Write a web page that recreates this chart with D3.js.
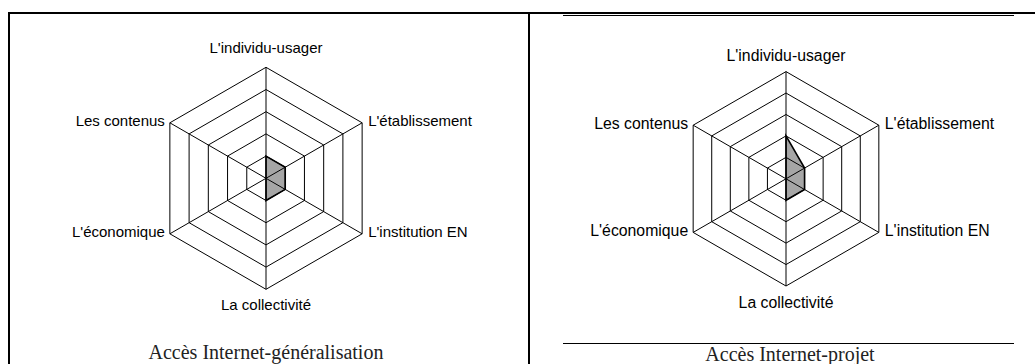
<!DOCTYPE html>
<html>
<head>
<meta charset="utf-8">
<script src="https://cdn.jsdelivr.net/npm/d3@7"></script>
<style>
  html, body { margin: 0; padding: 0; background: #fff; }
  svg { display: block; }
</style>
</head>
<body>
<div id="chart"></div>
<script>
// Axes of the radar, clockwise from the top
const axes = ['L\'individu-usager', 'L\'établissement', 'L\'institution EN',
  'La collectivité', 'L\'économique', 'Les contenus'];

// Ring levels of the grid
const levels = [1, 2, 3, 4, 5];

// Values per chart
const generalisation = [1, 1, 1, 1, 0, 0];
const projet = [2, 1, 1, 1, 0, 0];

// Chart titles
const titles = ['Accès Internet-généralisation', 'Accès Internet-projet'];

const W = 1035, H = 364;

const svg = d3.select('#chart')
  .append('svg')
  .attr('width', W)
  .attr('height', H);

// Frame lines
const frame = svg.append('g').attr('stroke', '#000').attr('fill', 'none');
frame.append('line').attr('x1', 8).attr('x2', W).attr('y1', 13).attr('y2', 13).attr('stroke-width', 2);
frame.append('line').attr('x1', 9).attr('x2', 9).attr('y1', 12).attr('y2', H).attr('stroke-width', 2);
frame.append('line').attr('x1', 529).attr('x2', 529).attr('y1', 12).attr('y2', H).attr('stroke-width', 2);
frame.append('line').attr('x1', 563).attr('x2', 1014).attr('y1', 15.5).attr('y2', 15.5).attr('stroke-width', 1);
frame.append('line').attr('x1', 563).attr('x2', 1014).attr('y1', 343.5).attr('y2', 343.5).attr('stroke-width', 1);

// Panel layout
const panels = [
  { cx: 266, cy: 178.3, r: 111, font: 15, values: generalisation, title: titles[0], tx: 266, ty: 359, topGap: 14, botGap: 21 },
  { cx: 786, cy: 178.8, r: 107.2, font: 15.8, values: projet, title: titles[1], tx: 790, ty: 361, topGap: 11, botGap: 22 }
];

function drawRadar(p) {
  const g = svg.append('g').attr('transform', `translate(${p.cx},${p.cy})`);
  const rScale = d3.scaleLinear().domain([0, d3.max(levels)]).range([0, p.r]);
  const angle = i => (i * 2 * Math.PI) / axes.length;
  const pt = (i, v) => [Math.sin(angle(i)) * rScale(v), -Math.cos(angle(i)) * rScale(v)];

  const line = d3.line().curve(d3.curveLinearClosed);

  // Filled data area
  g.append('path')
    .attr('d', line(p.values.map((v, i) => pt(i, v))))
    .attr('fill', '#a6a6a6')
    .attr('stroke', '#000')
    .attr('stroke-width', 1.6)
    .attr('stroke-linejoin', 'miter');

  // Grid rings
  g.selectAll('.ring')
    .data(levels)
    .enter()
    .append('path')
    .attr('class', 'ring')
    .attr('d', lv => line(axes.map((a, i) => pt(i, lv))))
    .attr('fill', 'none')
    .attr('stroke', '#000')
    .attr('stroke-width', 1);

  // Spokes
  g.selectAll('.spoke')
    .data(axes)
    .enter()
    .append('line')
    .attr('class', 'spoke')
    .attr('x1', 0).attr('y1', 0)
    .attr('x2', (d, i) => pt(i, d3.max(levels))[0])
    .attr('y2', (d, i) => pt(i, d3.max(levels))[1])
    .attr('stroke', '#000')
    .attr('stroke-width', 1);

  // Axis labels
  g.selectAll('.lbl')
    .data(axes)
    .enter()
    .append('text')
    .attr('class', 'lbl')
    .attr('font-family', '"Liberation Sans", Arial, sans-serif')
    .attr('font-size', p.font)
    .attr('fill', '#000')
    .attr('x', (d, i) => {
      const [x] = pt(i, d3.max(levels));
      if (Math.abs(x) < 1) return 0;
      return x > 0 ? x + 6 : x - 5;
    })
    .attr('y', (d, i) => {
      const [x, y] = pt(i, d3.max(levels));
      if (Math.abs(x) < 1) return y < 0 ? y - p.topGap : y + p.botGap;
      return y - 2;
    })
    .attr('dy', (d, i) => Math.abs(pt(i, 1)[0]) < 0.01 ? 0 : '0.35em')
    .attr('text-anchor', (d, i) => {
      const [x] = pt(i, d3.max(levels));
      if (Math.abs(x) < 1) return 'middle';
      return x > 0 ? 'start' : 'end';
    })
    .text(d => d);

  // Title
  svg.append('text')
    .attr('x', p.tx)
    .attr('y', p.ty)
    .attr('text-anchor', 'middle')
    .attr('font-family', '"Liberation Serif", "Times New Roman", serif')
    .attr('font-size', 20)
    .attr('fill', '#222')
    .text(p.title);
}

panels.forEach(drawRadar);
</script>
</body>
</html>
